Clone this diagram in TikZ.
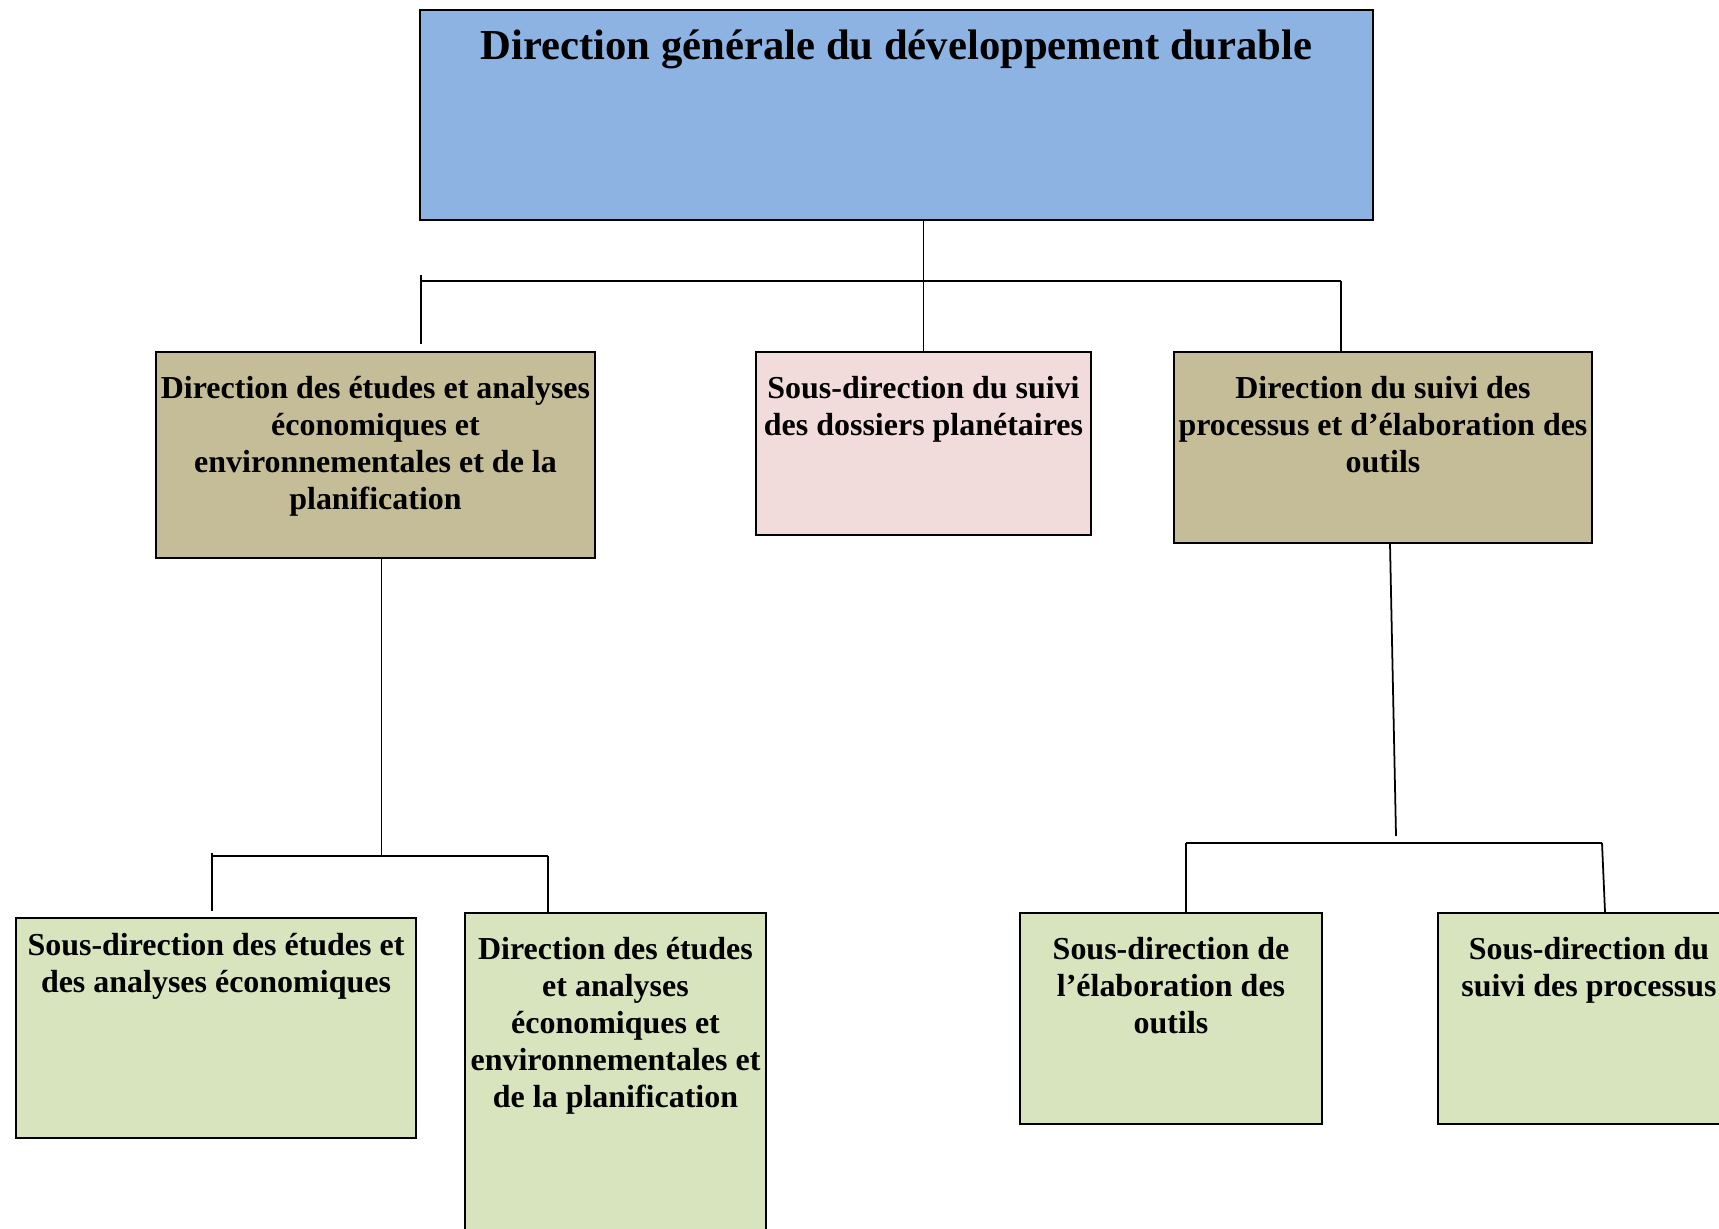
\documentclass[tikz,border=0pt]{standalone}
\usepackage{fontspec}
\setmainfont{Liberation Serif}
\usetikzlibrary{positioning, calc}
\definecolor{orgBlue}{RGB}{141, 179, 226}
\definecolor{orgTan}{RGB}{196, 189, 151}
\definecolor{orgPink}{RGB}{242, 220, 219}
\definecolor{orgGreen}{RGB}{215, 228, 189}

\begin{document}
\begin{tikzpicture}[x=0.02cm, y=-0.02cm,
        unit/.style={rectangle, draw=black, line width=1pt, inner sep=0pt},
        unittext/.style={anchor=north, inner sep=0pt, align=center,
                         font=\fontsize{18.2}{21.1}\selectfont\bfseries},
        link/.style={line width=1pt}
    ]
    \useasboundingbox (0,0) rectangle (1719,1229);
    \clip (0,0) rectangle (1719,1229);

    % Direction generale
    \node[unit, fill=orgBlue, minimum width=19.06cm, minimum height=4.2cm,
          label={[unittext, yshift=-0.4cm, font=\fontsize{24.3}{28}\selectfont\bfseries]north:{Direction générale du développement durable}}] (dgdd) at (896.5,115) {};

    % Directions
    \node[unit, fill=orgTan, minimum width=8.78cm, minimum height=4.12cm,
          label={[unittext, yshift=-0.49cm]north:{Direction des études et analyses\\économiques et\\environnementales et de la\\planification}}] (deaep) at (375.5,455) {};
    \node[unit, fill=orgPink, minimum width=6.7cm, minimum height=3.66cm,
          label={[unittext, yshift=-0.49cm]north:{Sous-direction du suivi\\des dossiers planétaires}}] (sdsdp) at (923.5,443.5) {};
    \node[unit, fill=orgTan, minimum width=8.36cm, minimum height=3.82cm,
          label={[unittext, yshift=-0.49cm]north:{Direction du suivi des\\processus et d’élaboration des\\outils}}] (dspeo) at (1383,447.5) {};

    % Sous-directions
    \node[unit, fill=orgGreen, minimum width=8cm, minimum height=4.4cm,
          label={[unittext, yshift=-0.31cm]north:{Sous-direction des études et\\des analyses économiques}}] (sdeae) at (216,1028) {};
    \node[unit, fill=orgGreen, minimum width=6.02cm, minimum height=6.68cm,
          label={[unittext, yshift=-0.49cm]north:{Direction des études\\et analyses\\économiques et\\environnementales et\\de la planification}}] (deaep2) at (615.5,1080) {};
    \node[unit, fill=orgGreen, minimum width=6.04cm, minimum height=4.22cm,
          label={[unittext, yshift=-0.49cm]north:{Sous-direction de\\l’élaboration des\\outils}}] (sdeo) at (1171,1018.5) {};
    \node[unit, fill=orgGreen, minimum width=6.04cm, minimum height=4.22cm,
          label={[unittext, yshift=-0.49cm]north:{Sous-direction du\\suivi des processus}}] (sdsp) at (1589,1018.5) {};

    % Liens niveau 1
    \coordinate (topbarL) at (421,281);
    \coordinate (topbarR) at (1341,281);
    \coordinate (toptickA) at (421,275);
    \coordinate (toptickB) at (421,344);
    \draw[link] (sdsdp.north) -- (sdsdp.north |- dgdd.south);
    \draw[link] (topbarL) -- (topbarR);
    \draw[link] (toptickA) -- (toptickB);
    \draw[link] (topbarR) -- (topbarR |- dspeo.north);

    % Liens gauche
    \coordinate (leftstem) at (381.5,856);
    \coordinate (leftbarL) at (212,856);
    \coordinate (leftbarR) at (548,856);
    \coordinate (lefttickA) at (212,853);
    \coordinate (lefttickB) at (212,911);
    \draw[link] (leftstem) -- (leftstem |- deaep.south);
    \draw[link] (leftbarL) -- (leftbarR);
    \draw[link] (lefttickA) -- (lefttickB);
    \draw[link] (leftbarR) -- (leftbarR |- deaep2.north);

    % Liens droite
    \coordinate (rightstem) at (1396,836);
    \coordinate (rightbarL) at (1186,843);
    \coordinate (rightbarR) at (1602,843);
    \draw[link] ($(dspeo.south)+(7,0)$) -- (rightstem);
    \draw[link] (rightbarL) -- (rightbarR);
    \draw[link] (rightbarL) -- (rightbarL |- sdeo.north);
    \draw[link] (rightbarR) -- ($(sdsp.north)+(16,0)$);
\end{tikzpicture}
\end{document}
